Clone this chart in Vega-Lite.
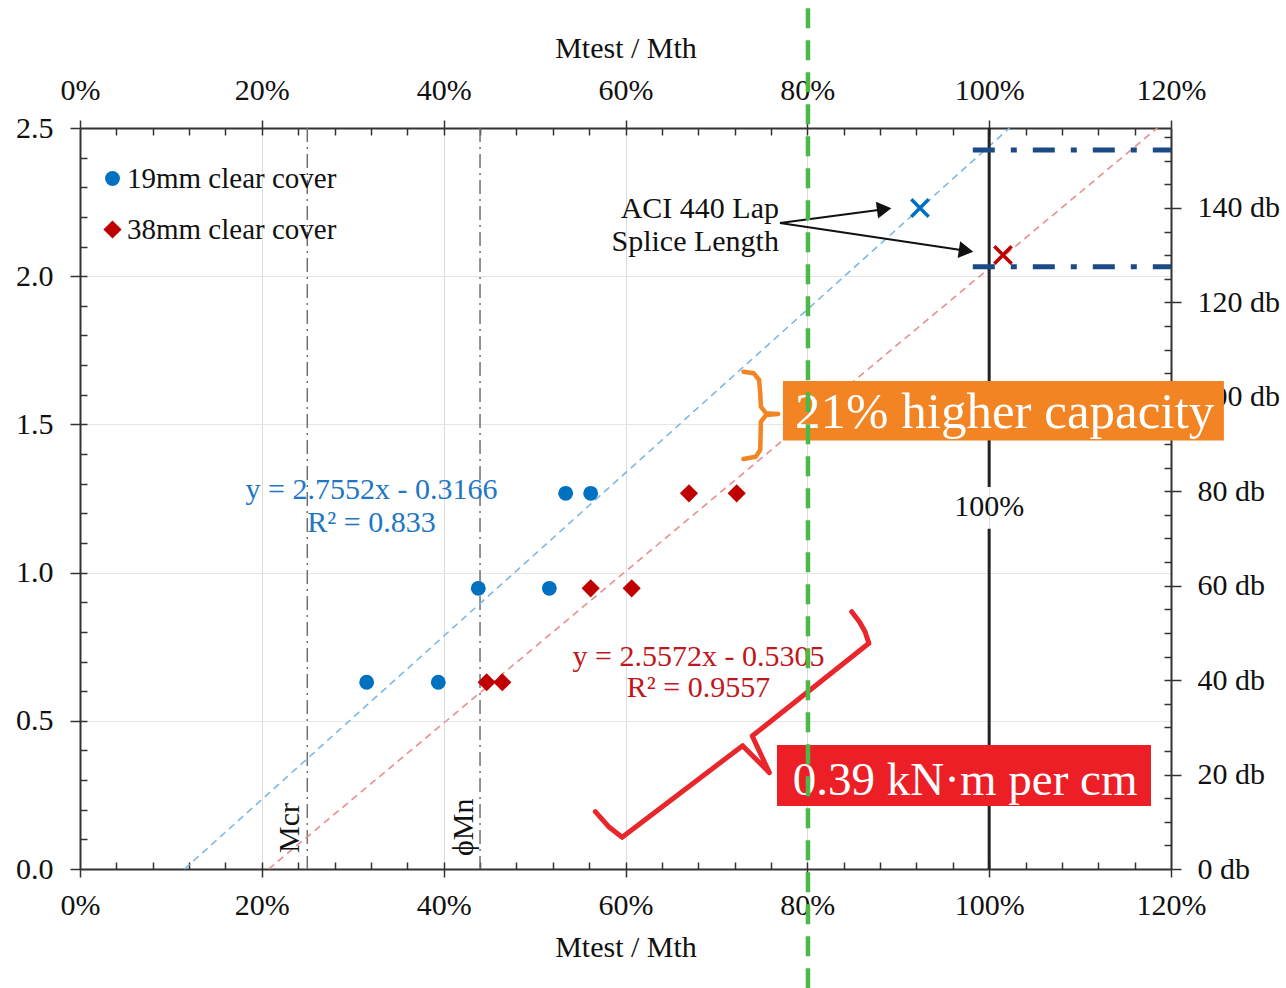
{
  "$schema": "https://vega.github.io/schema/vega-lite/v6.json",
  "width": 1091,
  "height": 741,
  "autosize": {"type": "none"},
  "padding": {"left": 80, "top": 128, "right": 115, "bottom": 119},
  "background": "white",
  "config": {"view": {"stroke": null}, "font": "Liberation Serif"},
  "resolve": {"axis": {"x": "independent", "y": "independent"}},
  "datasets": {
    "points": [
      {"series": "19mm clear cover", "x": 0.3153, "y": 0.63},
      {"series": "19mm clear cover", "x": 0.3941, "y": 0.63},
      {"series": "19mm clear cover", "x": 0.4381, "y": 0.947},
      {"series": "19mm clear cover", "x": 0.5162, "y": 0.947},
      {"series": "19mm clear cover", "x": 0.5342, "y": 1.2675},
      {"series": "19mm clear cover", "x": 0.5617, "y": 1.2675},
      {"series": "38mm clear cover", "x": 0.4473, "y": 0.63},
      {"series": "38mm clear cover", "x": 0.4645, "y": 0.63},
      {"series": "38mm clear cover", "x": 0.5617, "y": 0.947},
      {"series": "38mm clear cover", "x": 0.6068, "y": 0.947},
      {"series": "38mm clear cover", "x": 0.6698, "y": 1.2675},
      {"series": "38mm clear cover", "x": 0.7223, "y": 1.2675}
    ],
    "trend": [
      {"series": "19mm", "x": 0.1149, "y": 0},
      {"series": "19mm", "x": 1.0223, "y": 2.5},
      {"series": "38mm", "x": 0.2075, "y": 0},
      {"series": "38mm", "x": 1.185, "y": 2.5}
    ],
    "splice": [
      {"series": "19mm", "x": 0.9239, "y": 2.2301},
      {"series": "38mm", "x": 1.0152, "y": 2.0715}
    ],
    "arrows": [
      {"id": "a1", "x": 0.7699, "y": 2.1795, "x2": 0.8845, "y2": 2.2261},
      {"id": "a2", "x": 0.7699, "y": 2.1795, "x2": 0.9746, "y2": 2.086}
    ],
    "braceOrange": [
      {"i": 0, "x": 0.7298, "y": 1.6778},
      {"i": 1, "x": 0.7412, "y": 1.6724},
      {"i": 2, "x": 0.747, "y": 1.6498},
      {"i": 3, "x": 0.7482, "y": 1.6049},
      {"i": 4, "x": 0.7489, "y": 1.5597},
      {"i": 5, "x": 0.7547, "y": 1.5374},
      {"i": 6, "x": 0.768, "y": 1.5351},
      {"i": 7, "x": 0.7547, "y": 1.5317},
      {"i": 8, "x": 0.7489, "y": 1.5091},
      {"i": 9, "x": 0.7482, "y": 1.4136},
      {"i": 10, "x": 0.7432, "y": 1.391},
      {"i": 11, "x": 0.7298, "y": 1.3833}
    ],
    "braceRed": [
      {"i": 0, "x": 0.5668, "y": 0.1933},
      {"i": 1, "x": 0.5815, "y": 0.1427},
      {"i": 2, "x": 0.5963, "y": 0.1069},
      {"i": 3, "x": 0.7288, "y": 0.416},
      {"i": 4, "x": 0.7583, "y": 0.3249},
      {"i": 5, "x": 0.7394, "y": 0.4487},
      {"i": 6, "x": 0.8677, "y": 0.7614},
      {"i": 7, "x": 0.8635, "y": 0.8007},
      {"i": 8, "x": 0.8573, "y": 0.8344},
      {"i": 9, "x": 0.8488, "y": 0.8681}
    ]
  },
  "layer": [
    {
      "data": {"values": [{"x": 0, "y": 0}]},
      "mark": {"type": "point", "opacity": 0},
      "encoding": {
        "x": {"field": "x", "type": "quantitative", "scale": {"domain": [0, 1.2], "nice": false, "zero": false},
          "axis": {"orient": "bottom", "values": [0, 0.2, 0.4, 0.6, 0.8, 1, 1.2], "format": ".0%", "title": "Mtest / Mth",
            "grid": true, "gridColor": "#dcdcdc", "gridWidth": 1, "domain": true, "domainColor": "#333", "domainWidth": 2,
            "ticks": true, "tickSize": 8, "tickWidth": 1.5, "tickColor": "#333",
            "labelFont": "Liberation Serif", "labelFontSize": 30, "labelColor": "#111", "labelPadding": 13, "labelFlush": false, "labelOverlap": false,
            "titleFont": "Liberation Serif", "titleFontSize": 30, "titleFontWeight": "normal", "titleColor": "#111", "titlePadding": 12}},
        "y": {"field": "y", "type": "quantitative", "scale": {"domain": [0, 2.5], "nice": false, "zero": false},
          "axis": {"orient": "left", "values": [0, 0.5, 1, 1.5, 2, 2.5], "format": ".1f", "title": null,
            "grid": true, "gridColor": "#e6e6e6", "gridWidth": 1, "domain": true, "domainColor": "#333", "domainWidth": 2,
            "ticks": true, "tickSize": 10, "tickWidth": 1.5, "tickColor": "#333",
            "labelFont": "Liberation Serif", "labelFontSize": 30, "labelColor": "#111", "labelPadding": 17, "labelFlush": false, "labelOverlap": false}}
      }
    },
    {
      "data": {"values": [{"x": 0, "y": 0}]},
      "mark": {"type": "point", "opacity": 0},
      "encoding": {
        "x": {"field": "x", "type": "quantitative", "scale": {"domain": [0, 1.2], "nice": false, "zero": false},
          "axis": {"orient": "bottom", "values": [0.04, 0.08, 0.12, 0.16, 0.2, 0.24, 0.28, 0.32, 0.36, 0.4, 0.44, 0.48, 0.52, 0.56, 0.6, 0.64, 0.68, 0.72, 0.76, 0.8, 0.84, 0.88, 0.92, 0.96, 1, 1.04, 1.08, 1.12, 1.16],
            "labels": false, "domain": false, "grid": false, "title": null, "tickSize": -7, "tickWidth": 1.5, "tickColor": "#333"}},
        "y": {"field": "y", "type": "quantitative", "scale": {"domain": [0, 2.5], "nice": false, "zero": false},
          "axis": {"orient": "left", "values": [0.1, 0.2, 0.3, 0.4, 0.5, 0.6, 0.7, 0.8, 0.9, 1, 1.1, 1.2, 1.3, 1.4, 1.5, 1.6, 1.7, 1.8, 1.9, 2, 2.1, 2.2, 2.3, 2.4],
            "labels": false, "domain": false, "grid": false, "title": null, "tickSize": -7, "tickWidth": 1.5, "tickColor": "#333"}}
      }
    },
    {
      "data": {"values": [{"x": 0, "y": 0}]},
      "mark": {"type": "point", "opacity": 0},
      "encoding": {
        "x": {"field": "x", "type": "quantitative", "scale": {"domain": [0, 1.2], "nice": false, "zero": false},
          "axis": {"orient": "top", "values": [0, 0.2, 0.4, 0.6, 0.8, 1, 1.2], "format": ".0%", "title": "Mtest / Mth",
            "grid": false, "domain": true, "domainColor": "#333", "domainWidth": 2,
            "ticks": true, "tickSize": 8, "tickWidth": 1.5, "tickColor": "#333",
            "labelFont": "Liberation Serif", "labelFontSize": 30, "labelColor": "#111", "labelPadding": 15, "labelFlush": false, "labelOverlap": false,
            "titleFont": "Liberation Serif", "titleFontSize": 30, "titleFontWeight": "normal", "titleColor": "#111", "titlePadding": 12}},
        "y": {"field": "y", "type": "quantitative", "scale": {"domain": [0, 2.5], "nice": false, "zero": false},
          "axis": {"orient": "right", "values": [0, 0.3186, 0.6372, 0.9558, 1.2744, 1.593, 1.9116, 2.2302],
            "labelExpr": "format(datum.value / 0.01593, '.0f') + ' db'", "title": null,
            "grid": false, "domain": true, "domainColor": "#333", "domainWidth": 2,
            "ticks": true, "tickSize": 10, "tickWidth": 1.5, "tickColor": "#333",
            "labelFont": "Liberation Serif", "labelFontSize": 30, "labelColor": "#111", "labelPadding": 16, "labelFlush": false, "labelOverlap": false}}
      }
    },
    {
      "data": {"values": [{"x": 0, "y": 0}]},
      "mark": {"type": "point", "opacity": 0},
      "encoding": {
        "x": {"field": "x", "type": "quantitative", "scale": {"domain": [0, 1.2], "nice": false, "zero": false},
          "axis": {"orient": "top", "values": [0.04, 0.08, 0.12, 0.16, 0.2, 0.24, 0.28, 0.32, 0.36, 0.4, 0.44, 0.48, 0.52, 0.56, 0.6, 0.64, 0.68, 0.72, 0.76, 0.8, 0.84, 0.88, 0.92, 0.96, 1, 1.04, 1.08, 1.12, 1.16],
            "labels": false, "domain": false, "grid": false, "title": null, "tickSize": -7, "tickWidth": 1.5, "tickColor": "#333"}},
        "y": {"field": "y", "type": "quantitative", "scale": {"domain": [0, 2.5], "nice": false, "zero": false},
          "axis": {"orient": "right", "values": [0.07965, 0.1593, 0.23895, 0.3186, 0.39825, 0.4779, 0.55755, 0.6372, 0.71685, 0.7965, 0.87615, 0.9558, 1.03545, 1.1151, 1.19475, 1.2744, 1.35405, 1.4337, 1.51335, 1.593, 1.67265, 1.7523, 1.83195, 1.9116, 1.99125, 2.0709, 2.15055, 2.2302, 2.30985, 2.3895, 2.46915],
            "labels": false, "domain": false, "grid": false, "title": null, "tickSize": -7, "tickWidth": 1.5, "tickColor": "#333"}}
      }
    },
    {
      "data": {"values": [{"name": "Mcr", "x": 0.25}, {"name": "phiMn", "x": 0.44}]},
      "mark": {"type": "rule", "color": "#707070", "strokeWidth": 1.5, "strokeDash": [14, 5, 2, 5]},
      "encoding": {
        "x": {"field": "x", "type": "quantitative", "scale": {"domain": [0, 1.2], "nice": false, "zero": false}, "axis": null}
      }
    },
    {
      "data": {"name": "trend"},
      "transform": [{"filter": "datum.series === '19mm'"}],
      "mark": {"type": "line", "color": "#7cb8e6", "strokeWidth": 1.6, "strokeDash": [7, 5]},
      "encoding": {
        "x": {"field": "x", "type": "quantitative", "scale": {"domain": [0, 1.2], "nice": false, "zero": false}, "axis": null},
        "y": {"field": "y", "type": "quantitative", "scale": {"domain": [0, 2.5], "nice": false, "zero": false}, "axis": null}
      }
    },
    {
      "data": {"name": "trend"},
      "transform": [{"filter": "datum.series === '38mm'"}],
      "mark": {"type": "line", "color": "#e88e8e", "strokeWidth": 1.6, "strokeDash": [7, 5]},
      "encoding": {
        "x": {"field": "x", "type": "quantitative", "scale": {"domain": [0, 1.2], "nice": false, "zero": false}, "axis": null},
        "y": {"field": "y", "type": "quantitative", "scale": {"domain": [0, 2.5], "nice": false, "zero": false}, "axis": null}
      }
    },
    {
      "data": {"values": [{"x": 1.0, "y": 0, "y2": 1.148}, {"x": 1.0, "y": 1.289, "y2": 2.5}]},
      "mark": {"type": "rule", "color": "#222", "strokeWidth": 3},
      "encoding": {
        "x": {"field": "x", "type": "quantitative", "scale": {"domain": [0, 1.2], "nice": false, "zero": false}, "axis": null},
        "y": {"field": "y", "type": "quantitative", "scale": {"domain": [0, 2.5], "nice": false, "zero": false}, "axis": null},
        "y2": {"field": "y2"}
      }
    },
    {
      "data": {"values": [{"x": 0.982, "x2": 1.2, "y": 2.426}, {"x": 0.982, "x2": 1.2, "y": 2.032}]},
      "mark": {"type": "rule", "color": "#1b4a86", "strokeWidth": 5, "strokeDash": [22, 16, 6, 16]},
      "encoding": {
        "x": {"field": "x", "type": "quantitative", "scale": {"domain": [0, 1.2], "nice": false, "zero": false}, "axis": null},
        "x2": {"field": "x2"},
        "y": {"field": "y", "type": "quantitative", "scale": {"domain": [0, 2.5], "nice": false, "zero": false}, "axis": null}
      }
    },
    {
      "data": {"name": "points"},
      "mark": {"type": "point", "filled": true, "opacity": 1},
      "encoding": {
        "x": {"field": "x", "type": "quantitative", "scale": {"domain": [0, 1.2], "nice": false, "zero": false}, "axis": null},
        "y": {"field": "y", "type": "quantitative", "scale": {"domain": [0, 2.5], "nice": false, "zero": false}, "axis": null},
        "color": {"field": "series", "type": "nominal",
          "scale": {"domain": ["19mm clear cover", "38mm clear cover"], "range": ["#0070c0", "#c00000"]},
          "legend": {"title": null, "orient": "none", "legendX": 18, "legendY": 36, "padding": 0,
            "labelFont": "Liberation Serif", "labelFontSize": 29, "labelColor": "#111", "labelOffset": 0, "labelLimit": 0,
            "symbolSize": 230, "rowPadding": 21, "symbolStrokeWidth": 0}},
        "shape": {"field": "series", "type": "nominal",
          "scale": {"domain": ["19mm clear cover", "38mm clear cover"], "range": ["circle", "diamond"]},
          "legend": {"title": null, "orient": "none", "legendX": 18, "legendY": 36, "padding": 0,
            "labelFont": "Liberation Serif", "labelFontSize": 29, "labelColor": "#111", "labelOffset": 0, "labelLimit": 0,
            "symbolSize": 230, "rowPadding": 21, "symbolStrokeWidth": 0}},
        "size": {"field": "series", "type": "nominal",
          "scale": {"domain": ["19mm clear cover", "38mm clear cover"], "range": [220, 330]}, "legend": null}
      }
    },
    {
      "data": {"name": "splice"},
      "transform": [{"filter": "datum.series === '19mm'"}],
      "mark": {"type": "point", "shape": "M-1,-1L1,1M-1,1L1,-1", "filled": false, "color": "#0070c0", "strokeWidth": 3.5, "size": 300, "opacity": 1},
      "encoding": {
        "x": {"field": "x", "type": "quantitative", "scale": {"domain": [0, 1.2], "nice": false, "zero": false}, "axis": null},
        "y": {"field": "y", "type": "quantitative", "scale": {"domain": [0, 2.5], "nice": false, "zero": false}, "axis": null}
      }
    },
    {
      "data": {"name": "splice"},
      "transform": [{"filter": "datum.series === '38mm'"}],
      "mark": {"type": "point", "shape": "M-1,-1L1,1M-1,1L1,-1", "filled": false, "color": "#c00000", "strokeWidth": 3.5, "size": 300, "opacity": 1},
      "encoding": {
        "x": {"field": "x", "type": "quantitative", "scale": {"domain": [0, 1.2], "nice": false, "zero": false}, "axis": null},
        "y": {"field": "y", "type": "quantitative", "scale": {"domain": [0, 2.5], "nice": false, "zero": false}, "axis": null}
      }
    },
    {
      "data": {"name": "arrows"},
      "mark": {"type": "rule", "color": "#111", "strokeWidth": 2},
      "encoding": {
        "x": {"field": "x", "type": "quantitative", "scale": {"domain": [0, 1.2], "nice": false, "zero": false}, "axis": null},
        "y": {"field": "y", "type": "quantitative", "scale": {"domain": [0, 2.5], "nice": false, "zero": false}, "axis": null},
        "x2": {"field": "x2"},
        "y2": {"field": "y2"}
      }
    },
    {
      "data": {"name": "arrows"},
      "transform": [{"filter": "datum.id === 'a1'"}],
      "mark": {"type": "point", "shape": "triangle-right", "filled": true, "color": "#111", "size": 280, "angle": -7.6, "opacity": 1},
      "encoding": {
        "x": {"field": "x2", "type": "quantitative", "scale": {"domain": [0, 1.2], "nice": false, "zero": false}, "axis": null},
        "y": {"field": "y2", "type": "quantitative", "scale": {"domain": [0, 2.5], "nice": false, "zero": false}, "axis": null}
      }
    },
    {
      "data": {"name": "arrows"},
      "transform": [{"filter": "datum.id === 'a2'"}],
      "mark": {"type": "point", "shape": "triangle-right", "filled": true, "color": "#111", "size": 280, "angle": 8.5, "opacity": 1},
      "encoding": {
        "x": {"field": "x2", "type": "quantitative", "scale": {"domain": [0, 1.2], "nice": false, "zero": false}, "axis": null},
        "y": {"field": "y2", "type": "quantitative", "scale": {"domain": [0, 2.5], "nice": false, "zero": false}, "axis": null}
      }
    },
    {
      "data": {"values": [{"t": "ACI 440 Lap", "x": 0.7688, "y": 2.2257}, {"t": "Splice Length", "x": 0.7688, "y": 2.1164}]},
      "mark": {"type": "text", "font": "Liberation Serif", "fontSize": 30, "color": "#111", "align": "right", "baseline": "middle"},
      "encoding": {
        "x": {"field": "x", "type": "quantitative", "scale": {"domain": [0, 1.2], "nice": false, "zero": false}, "axis": null},
        "y": {"field": "y", "type": "quantitative", "scale": {"domain": [0, 2.5], "nice": false, "zero": false}, "axis": null},
        "text": {"field": "t"}
      }
    },
    {
      "data": {"values": [{"t": "100%", "x": 1.0, "y": 1.221}]},
      "mark": {"type": "text", "font": "Liberation Serif", "fontSize": 30, "color": "#111", "align": "center", "baseline": "middle"},
      "encoding": {
        "x": {"field": "x", "type": "quantitative", "scale": {"domain": [0, 1.2], "nice": false, "zero": false}, "axis": null},
        "y": {"field": "y", "type": "quantitative", "scale": {"domain": [0, 2.5], "nice": false, "zero": false}, "axis": null},
        "text": {"field": "t"}
      }
    },
    {
      "data": {"values": [{"t": "y = 2.7552x - 0.3166", "x": 0.3206, "y": 1.2787}, {"t": "R² = 0.833", "x": 0.3206, "y": 1.1673}]},
      "mark": {"type": "text", "font": "Liberation Serif", "fontSize": 30, "color": "#1f77c4", "align": "center", "baseline": "middle"},
      "encoding": {
        "x": {"field": "x", "type": "quantitative", "scale": {"domain": [0, 1.2], "nice": false, "zero": false}, "axis": null},
        "y": {"field": "y", "type": "quantitative", "scale": {"domain": [0, 2.5], "nice": false, "zero": false}, "axis": null},
        "text": {"field": "t"}
      }
    },
    {
      "data": {"values": [{"t": "y = 2.5572x - 0.5305", "x": 0.6803, "y": 0.7152}, {"t": "R² = 0.9557", "x": 0.6803, "y": 0.6107}]},
      "mark": {"type": "text", "font": "Liberation Serif", "fontSize": 30, "color": "#c0161d", "align": "center", "baseline": "middle"},
      "encoding": {
        "x": {"field": "x", "type": "quantitative", "scale": {"domain": [0, 1.2], "nice": false, "zero": false}, "axis": null},
        "y": {"field": "y", "type": "quantitative", "scale": {"domain": [0, 2.5], "nice": false, "zero": false}, "axis": null},
        "text": {"field": "t"}
      }
    },
    {
      "data": {"values": [{"t": "Mcr", "x": 0.2412, "y": 0.054}, {"t": "ϕMn", "x": 0.4323, "y": 0.0439}]},
      "mark": {"type": "text", "font": "Liberation Serif", "fontSize": 30, "color": "#111", "align": "left", "baseline": "alphabetic", "angle": 270},
      "encoding": {
        "x": {"field": "x", "type": "quantitative", "scale": {"domain": [0, 1.2], "nice": false, "zero": false}, "axis": null},
        "y": {"field": "y", "type": "quantitative", "scale": {"domain": [0, 2.5], "nice": false, "zero": false}, "axis": null},
        "text": {"field": "t"}
      }
    },
    {
      "data": {"name": "braceOrange"},
      "mark": {"type": "line", "color": "#f28424", "strokeWidth": 4.5, "clip": false, "strokeJoin": "round", "strokeCap": "round"},
      "encoding": {
        "x": {"field": "x", "type": "quantitative", "scale": {"domain": [0, 1.2], "nice": false, "zero": false}, "axis": null},
        "y": {"field": "y", "type": "quantitative", "scale": {"domain": [0, 2.5], "nice": false, "zero": false}, "axis": null},
        "order": {"field": "i", "type": "quantitative"}
      }
    },
    {
      "data": {"values": [{"x": 0.7732, "x2": 1.2582, "y": 1.6464, "y2": 1.4453}]},
      "mark": {"type": "rect", "color": "#f28424", "clip": false},
      "encoding": {
        "x": {"field": "x", "type": "quantitative", "scale": {"domain": [0, 1.2], "nice": false, "zero": false}, "axis": null},
        "x2": {"field": "x2"},
        "y": {"field": "y", "type": "quantitative", "scale": {"domain": [0, 2.5], "nice": false, "zero": false}, "axis": null},
        "y2": {"field": "y2"}
      }
    },
    {
      "data": {"values": [{"t": "21% higher capacity", "x": 1.017, "y": 1.4868}]},
      "mark": {"type": "text", "font": "Liberation Serif", "fontSize": 51, "color": "white", "align": "center", "baseline": "alphabetic", "clip": false},
      "encoding": {
        "x": {"field": "x", "type": "quantitative", "scale": {"domain": [0, 1.2], "nice": false, "zero": false}, "axis": null},
        "y": {"field": "y", "type": "quantitative", "scale": {"domain": [0, 2.5], "nice": false, "zero": false}, "axis": null},
        "text": {"field": "t"}
      }
    },
    {
      "data": {"name": "braceRed"},
      "mark": {"type": "line", "color": "#e8262b", "strokeWidth": 5, "clip": false, "strokeJoin": "round", "strokeCap": "round"},
      "encoding": {
        "x": {"field": "x", "type": "quantitative", "scale": {"domain": [0, 1.2], "nice": false, "zero": false}, "axis": null},
        "y": {"field": "y", "type": "quantitative", "scale": {"domain": [0, 2.5], "nice": false, "zero": false}, "axis": null},
        "order": {"field": "i", "type": "quantitative"}
      }
    },
    {
      "data": {"values": [{"x": 0.7666, "x2": 1.178, "y": 0.4184, "y2": 0.2126}]},
      "mark": {"type": "rect", "color": "#ec1f27", "clip": false},
      "encoding": {
        "x": {"field": "x", "type": "quantitative", "scale": {"domain": [0, 1.2], "nice": false, "zero": false}, "axis": null},
        "x2": {"field": "x2"},
        "y": {"field": "y", "type": "quantitative", "scale": {"domain": [0, 2.5], "nice": false, "zero": false}, "axis": null},
        "y2": {"field": "y2"}
      }
    },
    {
      "data": {"values": [{"t": "0.39 kN·m per cm", "x": 0.9736, "y": 0.2497}]},
      "mark": {"type": "text", "font": "Liberation Serif", "fontSize": 47, "color": "white", "align": "center", "baseline": "alphabetic", "clip": false},
      "encoding": {
        "x": {"field": "x", "type": "quantitative", "scale": {"domain": [0, 1.2], "nice": false, "zero": false}, "axis": null},
        "y": {"field": "y", "type": "quantitative", "scale": {"domain": [0, 2.5], "nice": false, "zero": false}, "axis": null},
        "text": {"field": "t"}
      }
    },
    {
      "data": {"values": [{"x": 0.8007, "y": -0.402, "y2": 2.935}]},
      "mark": {"type": "rule", "color": "#4cb847", "strokeWidth": 4.5, "strokeDash": [20, 12], "clip": false},
      "encoding": {
        "x": {"field": "x", "type": "quantitative", "scale": {"domain": [0, 1.2], "nice": false, "zero": false}, "axis": null},
        "y": {"field": "y", "type": "quantitative", "scale": {"domain": [0, 2.5], "nice": false, "zero": false}, "axis": null},
        "y2": {"field": "y2"}
      }
    }
  ]
}
